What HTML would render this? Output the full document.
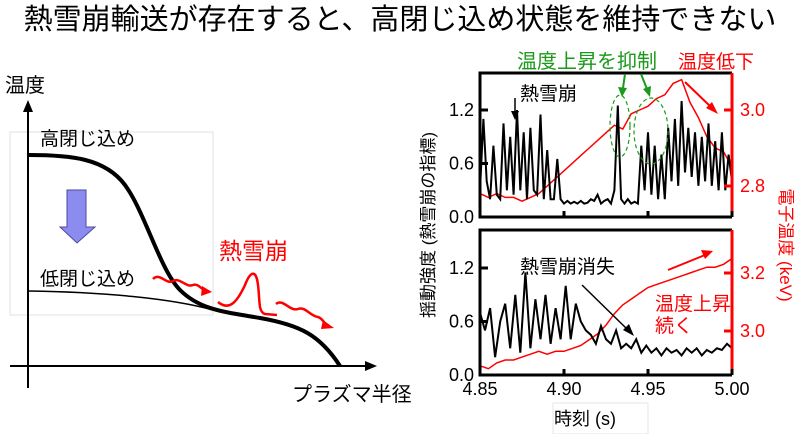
<!DOCTYPE html>
<html><head><meta charset="utf-8">
<style>
body{margin:0;background:#fff;}
svg{display:block;font-family:"Liberation Sans","Noto Sans CJK JP",sans-serif;}
</style></head>
<body>
<svg id="fig" width="800" height="434" viewBox="0 0 800 434">
<text x="400" y="29" text-anchor="middle" font-size="29" fill="#000">熱雪崩輸送が存在すると、高閉じ込め状態を維持できない</text>

<g>
 <rect x="10" y="132" width="203" height="183" fill="none" stroke="#e2e2e2"/>
 <line x1="28" y1="388" x2="28" y2="106" stroke="#000" stroke-width="2"/>
 <polygon points="28,100 23,112 33,112" fill="#000"/>
 <line x1="10" y1="366" x2="370" y2="366" stroke="#000" stroke-width="2"/>
 <polygon points="377,366 365,361 365,371" fill="#000"/>
 <text x="5" y="92" font-size="20">温度</text>
 <text x="292" y="401" font-size="20">プラズマ半径</text>
 <path d="M29,155 C70,155 105,158 125,185 C145,212 160,270 180,290 C200,310 225,312 260,318 C300,325 320,335 340,366" fill="none" stroke="#000" stroke-width="4"/>
 <path d="M29,291 C100,292 170,298 213,310" fill="none" stroke="#000" stroke-width="1.5"/>
 <text x="40" y="145" font-size="19">高閉じ込め</text>
 <text x="40" y="285" font-size="19">低閉じ込め</text>
 <path d="M67,190 H86 V227 H95 L77,243 L60,227 H67 Z" fill="#8c8cf0" stroke="#4a4aa0" stroke-width="1"/>
 <text x="219" y="259" font-size="23" fill="#f00">熱雪崩</text>
 <path d="M153,279 C160,272 166,285 173,281 C180,277 186,288 193,285 C198,283 202,290 206,291" fill="none" stroke="#f00" stroke-width="2.5"/>
 <polygon points="212,292 202,286 201,296" fill="#f00"/>
 <path d="M218,302 C230,312 238,300 245,285 C250,272 256,268 258,285 C260,300 258,312 265,314 L277,315" fill="none" stroke="#f00" stroke-width="2.5"/>
 <path d="M276,304 C283,298 290,312 298,309 C305,306 310,316 318,317 C322,318 324,323 327,325" fill="none" stroke="#f00" stroke-width="2.5"/>
 <polygon points="334,328 323,320 321,329" fill="#f00"/>
</g>

<g id="charts"></g>
</svg>
<script>
const topFluct=[0.3,1.1,0.4,0.2,0.8,0.25,0.2,1.05,0.3,0.9,0.25,1.2,0.3,0.95,0.2,1.0,0.3,0.25,1.15,0.2,0.75,0.2,0.2,0.65,0.2,0.15,0.18,0.15,0.17,0.15,0.18,0.15,0.16,0.2,0.18,0.25,0.15,0.18,0.2,0.15,0.3,1.25,0.2,0.15,0.2,0.15,0.17,0.15,0.8,0.3,0.95,0.25,0.8,0.2,0.7,0.2,1.0,0.4,1.1,0.35,1.3,0.5,1.0,0.45,0.95,0.35,0.9,0.4,1.05,0.35,0.85,0.3,0.95,0.3,0.7,0.4];
const topTe=[2.78,2.77,2.78,2.77,2.77,2.76,2.77,2.78,2.80,2.82,2.84,2.86,2.88,2.90,2.92,2.94,2.96,2.95,2.99,3.00,3.01,3.03,3.04,3.07,3.08,3.02,2.98,2.93,2.90,2.89,2.85];
const botFluct=[0.7,0.5,0.75,0.2,0.6,0.8,0.3,0.9,0.25,1.15,0.3,0.85,0.4,0.9,0.35,0.75,0.4,1.0,0.4,0.8,0.6,0.5,0.45,0.35,0.55,0.4,0.35,0.5,0.3,0.35,0.3,0.4,0.25,0.33,0.25,0.3,0.22,0.3,0.25,0.28,0.22,0.3,0.25,0.3,0.22,0.28,0.25,0.3,0.28,0.35,0.3];
const botTe=[2.88,2.87,2.89,2.90,2.90,2.91,2.92,2.93,2.92,2.93,2.93,2.94,2.95,2.97,2.99,3.02,3.06,3.09,3.11,3.13,3.15,3.16,3.17,3.18,3.19,3.20,3.21,3.22,3.22,3.23,3.25];
const xTicks=[4.85,4.90,4.95,5.00];
const xTickLabels=["4.85","4.90","4.95","5.00"];
const leftTicks=[0.0,0.6,1.2];
const leftTickLabels=["0.0","0.6","1.2"];
const topRightTicks=[2.8,3.0];
const topRightLabels=["2.8","3.0"];
const botRightTicks=[3.0,3.2];
const botRightLabels=["3.0","3.2"];

const NS="http://www.w3.org/2000/svg";
const root=document.getElementById('charts');
function mk(tag,attrs,parent){const e=document.createElementNS(NS,tag);for(const k in attrs)e.setAttribute(k,attrs[k]);(parent||root).appendChild(e);return e;}
const X0=480,X1=732,T0=4.85,T1=5.0;
const xs=t=>X0+(t-T0)/(T1-T0)*(X1-X0);
function idxT(i,n){return T0+(T1-T0)*i/(n-1);}

function panel(name,top,bottom,yl,yr,fl,te,rTicks,rLabels,showX){
  const g=mk('g',{});
  
  
  const black=fl.map((v,i)=>xs(idxT(i,fl.length)).toFixed(1)+','+yl(v).toFixed(1)).join(' ');
  const red=te.map((v,i)=>xs(idxT(i,te.length)).toFixed(1)+','+yr(v).toFixed(1)).join(' ');
  const pr=mk('polyline',{points:red,fill:'none',stroke:'#f00','stroke-width':1.5},g);
  
  
  const pb=mk('polyline',{points:black,fill:'none',stroke:'#000','stroke-width':2},g);
  
  
  const fr=mk('path',{d:`M${X1},${top} H${X0} V${bottom} H${X1}`,fill:'none',stroke:'#000','stroke-width':3},g);
  
  
  const ra=mk('line',{x1:X1,y1:top,x2:X1,y2:bottom,stroke:'#f00','stroke-width':3},g);
  
  
  leftTicks.forEach((v,i)=>{
    const y=yl(v);
    const tk=mk('line',{x1:X0,y1:y,x2:X0+8,y2:y,stroke:'#000','stroke-width':3},g);
    
    
    const tx=mk('text',{x:X0-6,y:y+6,'text-anchor':'end','font-size':18},g);
    tx.textContent=leftTickLabels[i];
    
    
  });
  rTicks.forEach((v,i)=>{
    const y=yr(v);
    const tk=mk('line',{x1:X1-8,y1:y,x2:X1,y2:y,stroke:'#f00','stroke-width':3},g);
    
    
    const tx=mk('text',{x:X1+8,y:y+6,'font-size':18,fill:'#f00'},g);
    tx.textContent=rLabels[i];
    
    
  });
  xTicks.forEach((v,i)=>{
    const x=xs(v);
    const tk=mk('line',{x1:x,y1:bottom,x2:x,y2:bottom-6,stroke:'#000','stroke-width':3},g);
    
    
    if(showX){
      const tx=mk('text',{x:x,y:bottom+20,'text-anchor':'middle','font-size':18},g);
      tx.textContent=xTickLabels[i];
      
      
    }
  });
  return g;
}
const ylTop=v=>217-v*(217-110)/1.2;
const yrTop=v=>186-(v-2.8)*(186-110)/0.2;
const ylBot=v=>375-v*(375-268)/1.2;
const yrBot=v=>331-(v-3.0)*(331-273)/0.2;
panel('top-chart',73,217,ylTop,yrTop,topFluct,topTe,topRightTicks,topRightLabels,false);
panel('bottom-chart',230,375,ylBot,yrBot,botFluct,botTe,botRightTicks,botRightLabels,true);

function txt(s,attrs,name){const t=mk('text',attrs);t.textContent=s;return t;}
function ln(attrs,name){const l=mk('line',attrs);return l;}
function pg(pts,fill,name){const p=mk('polygon',{points:pts,fill:fill});return p;}

txt('揺動強度 (熱雪崩の指標)',{x:0,y:0,'font-size':17,'text-anchor':'middle',transform:'translate(434,225) rotate(-90)'},'left-axis-title');
txt('電子温度 (keV)',{x:0,y:0,'font-size':17,'text-anchor':'middle',fill:'#f00',transform:'translate(780,245) rotate(90)'},'right-axis-title');
const bx=mk('rect',{x:553,y:403,width:95,height:31,fill:'none',stroke:'#e6e6e6'});

txt('時刻 (s)',{x:585,y:425,'font-size':18,'text-anchor':'middle'},'x-axis-title');

txt('熱雪崩',{x:520,y:100,'font-size':19},'avalanche-annotation');
ln({x1:515,y1:98,x2:515,y2:112,stroke:'#000','stroke-width':1.5},'avalanche-arrow');
pg('515,120 511,111 519,111','#000','avalanche-arrowhead');
txt('温度上昇を抑制',{x:517,y:68,'font-size':20,fill:'#1a9a1a'},'suppression-annotation');
txt('温度低下',{x:678,y:68,'font-size':19,fill:'#f00'},'temperature-drop-annotation');
ln({x1:625,y1:74,x2:623,y2:88,stroke:'#1a9a1a','stroke-width':2},'green-arrow-1');
pg('622,97 618,87 627,88','#1a9a1a','green-arrowhead-1');
ln({x1:641,y1:74,x2:647,y2:89,stroke:'#1a9a1a','stroke-width':2},'green-arrow-2');
pg('650,97 643,89 651,86','#1a9a1a','green-arrowhead-2');
const e1=mk('ellipse',{cx:620,cy:126,rx:10,ry:31,fill:'none',stroke:'#1a9a1a','stroke-width':1.2,'stroke-dasharray':'4,3'});

const e2=mk('ellipse',{cx:651,cy:131,rx:17,ry:33,fill:'none',stroke:'#1a9a1a','stroke-width':1.2,'stroke-dasharray':'4,3'});

ln({x1:685,y1:82,x2:712,y2:108,stroke:'#f00','stroke-width':2},'temperature-drop-arrow');
pg('718,114 706,108 712,102','#f00','temperature-drop-arrowhead');

txt('熱雪崩消失',{x:520,y:273,'font-size':19},'avalanche-vanish-annotation');
ln({x1:582,y1:285,x2:628,y2:330,stroke:'#000','stroke-width':1.5},'vanish-arrow');
pg('634,336 623,330 629,324','#000','vanish-arrowhead');
txt('温度上昇',{x:655,y:310,'font-size':19,fill:'#f00'},'temperature-rise-annotation');
txt('続く',{x:655,y:332,'font-size':19,fill:'#f00'},'temperature-rise-annotation-2');
ln({x1:668,y1:270,x2:705,y2:255,stroke:'#f00','stroke-width':2},'temperature-rise-arrow');
pg('713,251 701,250 705,259','#f00','temperature-rise-arrowhead');
</script>
</body></html>
